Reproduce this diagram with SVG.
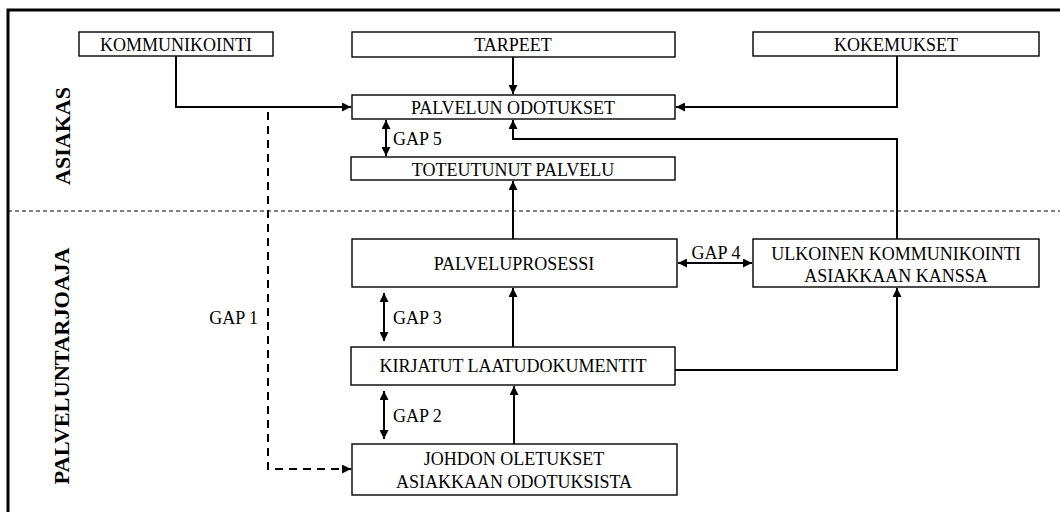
<svg xmlns="http://www.w3.org/2000/svg" width="1060" height="512" viewBox="0 0 1060 512">
<style>
.box{fill:#fff;stroke:#000;stroke-width:1.4}
.t{font-family:"Liberation Serif","Times New Roman",serif;font-size:18px;fill:#000;text-anchor:middle}
.g{font-family:"Liberation Serif","Times New Roman",serif;font-size:18px;fill:#000}
.side{font-family:"Liberation Serif","Times New Roman",serif;font-size:22px;font-weight:bold;fill:#000;text-anchor:middle}
.c{fill:none;stroke:#000;stroke-width:2}
.ar{marker-end:url(#ah)}
.dbl{marker-start:url(#ah);marker-end:url(#ah)}
</style>
<defs>
<marker id="ah" markerUnits="userSpaceOnUse" markerWidth="9" markerHeight="9" refX="8" refY="4" orient="auto-start-reverse" viewBox="0 0 8 8">
<path d="M0,0 L8,4 L0,8 z" fill="#000"/>
</marker>
</defs>
<rect width="1060" height="512" fill="#fff"/>
<path d="M8,512 V10 H1060" fill="none" stroke="#000" stroke-width="3"/>
<line x1="8" y1="211" x2="1060" y2="211" stroke="#000" stroke-width="1" stroke-dasharray="4 3"/>
<text class="side" transform="translate(70,136) rotate(-90)">ASIAKAS</text>
<text class="side" transform="translate(69,366) rotate(-90)" textLength="237" lengthAdjust="spacingAndGlyphs">PALVELUNTARJOAJA</text>
<g id="connectors">
<path class="c ar" d="M176,56 V107 H351"/>
<path class="c ar" d="M513,57 V94"/>
<path class="c ar" d="M897,56 V107 H676"/>
<path class="c ar" d="M897,239 V139 H513 V120"/>
<path class="c dbl" d="M386,120 V156"/>
<path class="c ar" d="M513,239 V181"/>
<path class="c ar" d="M268,112 V469 H351" stroke-dasharray="8 6"/>
<path class="c dbl" d="M384,293 V341"/>
<path class="c dbl" d="M384,391 V439"/>
<path class="c ar" d="M513,347 V288"/>
<path class="c ar" d="M514,444 V386"/>
<path class="c ar" d="M675,370 H897 V288"/>
<path class="c dbl" d="M678,263 H752"/>
<text class="g" x="393" y="145">GAP 5</text>
<text class="g" x="258" y="324" text-anchor="end">GAP 1</text>
<text class="g" x="393" y="324">GAP 3</text>
<text class="g" x="393" y="422">GAP 2</text>
<text class="g" x="716" y="259" text-anchor="middle">GAP 4</text>
</g>
<g id="kommunikointi"><rect class="box" x="79" y="32" width="194" height="24"/><text class="t" x="176" y="51">KOMMUNIKOINTI</text></g>
<g id="tarpeet"><rect class="box" x="352" y="32" width="323" height="25"/><text class="t" x="513" y="51">TARPEET</text></g>
<g id="kokemukset"><rect class="box" x="753" y="32" width="286" height="24"/><text class="t" x="896" y="51">KOKEMUKSET</text></g>
<g id="odotukset"><rect class="box" x="352" y="95" width="323" height="24"/><text class="t" x="513" y="114">PALVELUN ODOTUKSET</text></g>
<g id="toteutunut"><rect class="box" x="351" y="157" width="324" height="23"/><text class="t" x="513" y="176">TOTEUTUNUT PALVELU</text></g>
<g id="prosessi"><rect class="box" x="352" y="239" width="325" height="48"/><text class="t" x="514" y="270">PALVELUPROSESSI</text></g>
<g id="ulkoinen"><rect class="box" x="753" y="239" width="286" height="48"/><text class="t" x="896" y="260">ULKOINEN KOMMUNIKOINTI</text><text class="t" x="896" y="282">ASIAKKAAN KANSSA</text></g>
<g id="kirjatut"><rect class="box" x="351" y="347" width="324" height="38"/><text class="t" x="513" y="372">KIRJATUT LAATUDOKUMENTIT</text></g>
<g id="johdon"><rect class="box" x="352" y="444" width="325" height="51"/><text class="t" x="514" y="465">JOHDON OLETUKSET</text><text class="t" x="514" y="488">ASIAKKAAN ODOTUKSISTA</text></g>
</svg>
